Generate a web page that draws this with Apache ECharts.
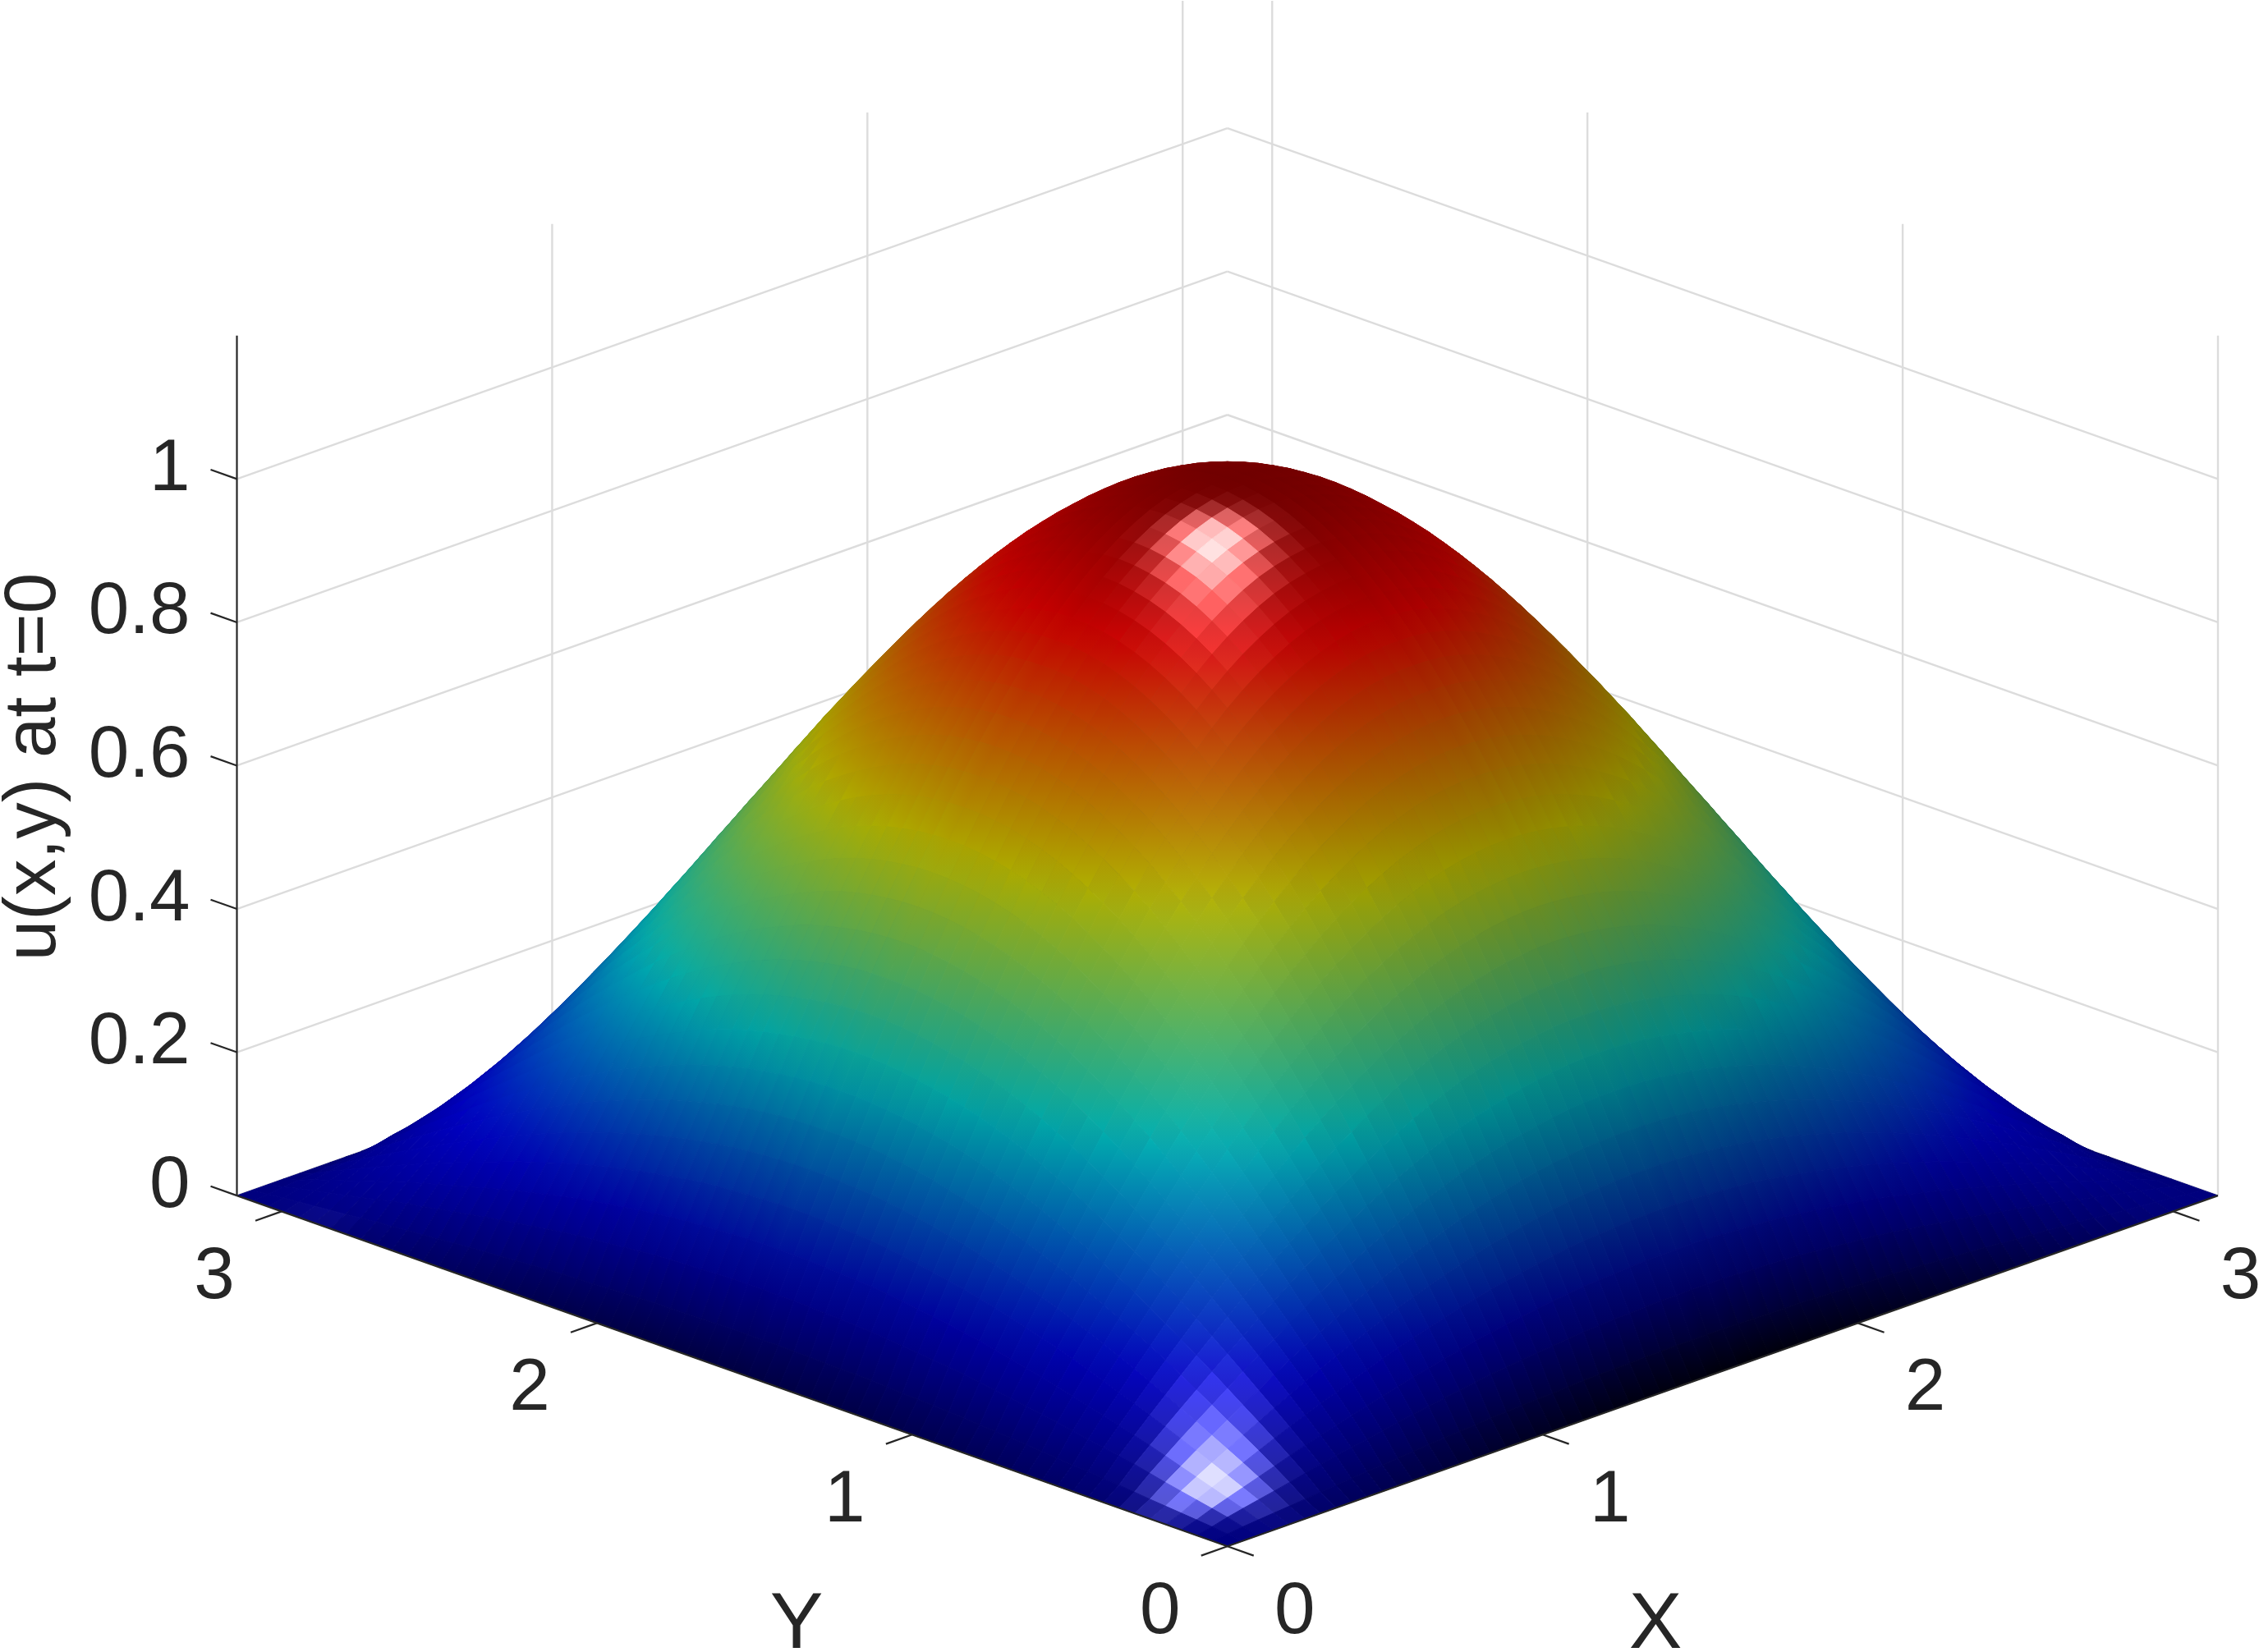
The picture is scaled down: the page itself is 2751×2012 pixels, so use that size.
<!DOCTYPE html>
<html>
<head>
<meta charset="utf-8">
<title>u(x,y) at t=0</title>
<script src="https://cdn.jsdelivr.net/npm/echarts@6/dist/echarts.min.js"></script>
<style>
  html, body { margin: 0; padding: 0; background: #fff; }
  #main { width: 2751px; height: 2012px; }
</style>
</head>
<body>
<div id="main"></div>
<script>
// axis ticks
const xyTicks = [0, 1, 2, 3];
const zTicks = [0, 0.2, 0.4, 0.6, 0.8, 1];
const axisMax = 3.142;
const zMax = 1.2;

// mesh positions along X and along Y
const xyGrid = [0,.098,.196,.295,.393,.491,.589,.687,.785,.884,.982,1.08,1.178,1.276,1.374,1.473,1.571,1.669,1.767,1.865,1.963,2.062,2.16,2.258,2.356,2.454,2.553,2.651,2.749,2.847,2.945,3.043,3.142];

// surface heights, one row per Y
const uTable = [
[0,0,0,0,0,0,0,0,0,0,0,0,0,0,0,0,0,0,0,0,0,0,0,0,0,0,0,0,0,0,0,0,0],
[0,.010,.019,.028,.038,.046,.054,.062,.069,.076,.082,.086,.091,.094,.096,.098,.098,.098,.096,.094,.091,.086,.082,.076,.069,.062,.054,.046,.038,.028,.019,.010,0],
[0,.019,.038,.057,.075,.092,.108,.124,.138,.151,.162,.172,.180,.187,.191,.194,.195,.194,.191,.187,.180,.172,.162,.151,.138,.124,.108,.092,.075,.057,.038,.019,0],
[0,.028,.057,.084,.111,.137,.161,.184,.205,.224,.241,.256,.268,.278,.285,.289,.290,.289,.285,.278,.268,.256,.241,.224,.205,.184,.161,.137,.111,.084,.057,.028,0],
[0,.038,.075,.111,.146,.180,.213,.243,.271,.296,.318,.338,.354,.366,.375,.381,.383,.381,.375,.366,.354,.338,.318,.296,.271,.243,.213,.180,.146,.111,.075,.038,0],
[0,.046,.092,.137,.180,.222,.262,.299,.333,.364,.392,.416,.436,.451,.462,.469,.471,.469,.462,.451,.436,.416,.392,.364,.333,.299,.262,.222,.180,.137,.092,.046,0],
[0,.054,.108,.161,.213,.262,.309,.352,.393,.429,.462,.490,.513,.532,.545,.553,.556,.553,.545,.532,.513,.490,.462,.429,.393,.352,.309,.262,.213,.161,.108,.054,0],
[0,.062,.124,.184,.243,.299,.352,.402,.449,.490,.527,.559,.586,.607,.622,.631,.634,.631,.622,.607,.586,.559,.527,.490,.449,.402,.352,.299,.243,.184,.124,.062,0],
[0,.069,.138,.205,.271,.333,.393,.449,.500,.547,.588,.624,.653,.677,.694,.704,.707,.704,.694,.677,.653,.624,.588,.547,.500,.449,.393,.333,.271,.205,.138,.069,0],
[0,.076,.151,.224,.296,.364,.429,.490,.547,.598,.643,.682,.714,.740,.758,.769,.773,.769,.758,.740,.714,.682,.643,.598,.547,.490,.429,.364,.296,.224,.151,.076,0],
[0,.082,.162,.241,.318,.392,.462,.527,.588,.643,.691,.733,.768,.796,.816,.828,.831,.828,.816,.796,.768,.733,.691,.643,.588,.527,.462,.392,.318,.241,.162,.082,0],
[0,.086,.172,.256,.338,.416,.490,.559,.624,.682,.733,.778,.815,.844,.865,.878,.882,.878,.865,.844,.815,.778,.733,.682,.624,.559,.490,.416,.338,.256,.172,.086,0],
[0,.091,.180,.268,.354,.436,.513,.586,.653,.714,.768,.815,.854,.884,.906,.919,.924,.919,.906,.884,.854,.815,.768,.714,.653,.586,.513,.436,.354,.268,.180,.091,0],
[0,.094,.187,.278,.366,.451,.532,.607,.677,.740,.796,.844,.884,.916,.939,.952,.957,.952,.939,.916,.884,.844,.796,.740,.677,.607,.532,.451,.366,.278,.187,.094,0],
[0,.096,.191,.285,.375,.462,.545,.622,.694,.758,.816,.865,.906,.939,.962,.976,.981,.976,.962,.939,.906,.865,.816,.758,.694,.622,.545,.462,.375,.285,.191,.096,0],
[0,.098,.194,.289,.381,.469,.553,.631,.704,.769,.828,.878,.919,.952,.976,.990,.995,.990,.976,.952,.919,.878,.828,.769,.704,.631,.553,.469,.381,.289,.194,.098,0],
[0,.098,.195,.290,.383,.471,.556,.634,.707,.773,.831,.882,.924,.957,.981,.995,1,.995,.981,.957,.924,.882,.831,.773,.707,.634,.556,.471,.383,.290,.195,.098,0],
[0,.098,.194,.289,.381,.469,.553,.631,.704,.769,.828,.878,.919,.952,.976,.990,.995,.990,.976,.952,.919,.878,.828,.769,.704,.631,.553,.469,.381,.289,.194,.098,0],
[0,.096,.191,.285,.375,.462,.545,.622,.694,.758,.816,.865,.906,.939,.962,.976,.981,.976,.962,.939,.906,.865,.816,.758,.694,.622,.545,.462,.375,.285,.191,.096,0],
[0,.094,.187,.278,.366,.451,.532,.607,.677,.740,.796,.844,.884,.916,.939,.952,.957,.952,.939,.916,.884,.844,.796,.740,.677,.607,.532,.451,.366,.278,.187,.094,0],
[0,.091,.180,.268,.354,.436,.513,.586,.653,.714,.768,.815,.854,.884,.906,.919,.924,.919,.906,.884,.854,.815,.768,.714,.653,.586,.513,.436,.354,.268,.180,.091,0],
[0,.086,.172,.256,.338,.416,.490,.559,.624,.682,.733,.778,.815,.844,.865,.878,.882,.878,.865,.844,.815,.778,.733,.682,.624,.559,.490,.416,.338,.256,.172,.086,0],
[0,.082,.162,.241,.318,.392,.462,.527,.588,.643,.691,.733,.768,.796,.816,.828,.831,.828,.816,.796,.768,.733,.691,.643,.588,.527,.462,.392,.318,.241,.162,.082,0],
[0,.076,.151,.224,.296,.364,.429,.490,.547,.598,.643,.682,.714,.740,.758,.769,.773,.769,.758,.740,.714,.682,.643,.598,.547,.490,.429,.364,.296,.224,.151,.076,0],
[0,.069,.138,.205,.271,.333,.393,.449,.500,.547,.588,.624,.653,.677,.694,.704,.707,.704,.694,.677,.653,.624,.588,.547,.500,.449,.393,.333,.271,.205,.138,.069,0],
[0,.062,.124,.184,.243,.299,.352,.402,.449,.490,.527,.559,.586,.607,.622,.631,.634,.631,.622,.607,.586,.559,.527,.490,.449,.402,.352,.299,.243,.184,.124,.062,0],
[0,.054,.108,.161,.213,.262,.309,.352,.393,.429,.462,.490,.513,.532,.545,.553,.556,.553,.545,.532,.513,.490,.462,.429,.393,.352,.309,.262,.213,.161,.108,.054,0],
[0,.046,.092,.137,.180,.222,.262,.299,.333,.364,.392,.416,.436,.451,.462,.469,.471,.469,.462,.451,.436,.416,.392,.364,.333,.299,.262,.222,.180,.137,.092,.046,0],
[0,.038,.075,.111,.146,.180,.213,.243,.271,.296,.318,.338,.354,.366,.375,.381,.383,.381,.375,.366,.354,.338,.318,.296,.271,.243,.213,.180,.146,.111,.075,.038,0],
[0,.028,.057,.084,.111,.137,.161,.184,.205,.224,.241,.256,.268,.278,.285,.289,.290,.289,.285,.278,.268,.256,.241,.224,.205,.184,.161,.137,.111,.084,.057,.028,0],
[0,.019,.038,.057,.075,.092,.108,.124,.138,.151,.162,.172,.180,.187,.191,.194,.195,.194,.191,.187,.180,.172,.162,.151,.138,.124,.108,.092,.075,.057,.038,.019,0],
[0,.010,.019,.028,.038,.046,.054,.062,.069,.076,.082,.086,.091,.094,.096,.098,.098,.098,.096,.094,.091,.086,.082,.076,.069,.062,.054,.046,.038,.028,.019,.010,0],
[0,0,0,0,0,0,0,0,0,0,0,0,0,0,0,0,0,0,0,0,0,0,0,0,0,0,0,0,0,0,0,0,0]
];

// jet colormap
const jetPos = [0, 0.127, 0.365, 0.62, 0.873, 1];
const jetRgb = [[0,0,143],[0,0,255],[0,255,255],[255,255,0],[255,0,0],[128,0,0]];

const INK = '#262626';
const GRID = '#dcdcdc';
const FONT = 'Liberation Sans, Arial, sans-serif';
const n = xyGrid.length;
const SUB = 2;  // each mesh cell is drawn as SUB x SUB facets

// view: x-y runs across the page, height is z plus the rise of the floor going back
const DEPTH = 0.1558;
function project(x, y, z) {
  return [x - y, (x + y) * DEPTH + z];
}

// slopes at the mesh nodes, for the lighting
const slopeX = [], slopeY = [];
for (let j = 0; j < n; j++) {
  slopeX.push([]); slopeY.push([]);
  for (let i = 0; i < n; i++) {
    const i0 = Math.max(i - 1, 0), i1 = Math.min(i + 1, n - 1);
    const j0 = Math.max(j - 1, 0), j1 = Math.min(j + 1, n - 1);
    slopeX[j].push((uTable[j][i1] - uTable[j][i0]) / (xyGrid[i1] - xyGrid[i0]));
    slopeY[j].push((uTable[j1][i] - uTable[j0][i]) / (xyGrid[j1] - xyGrid[j0]));
  }
}

function mix(a, b, t) { return a + (b - a) * t; }

// same curve idea as a smooth line series, so the outline does not show the mesh
function spline(p0, p1, p2, p3, t) {
  return p1 + 0.5 * t * (p2 - p0 + t * (2 * p0 - 5 * p1 + 4 * p2 - p3 + t * (3 * (p1 - p2) + p3 - p0)));
}
function node(i, j) {
  const ii = Math.max(0, Math.min(n - 1, i)), jj = Math.max(0, Math.min(n - 1, j));
  return uTable[jj][ii];
}
function heightAt(i, j, s, t) {
  const rows = [-1, 0, 1, 2].map(function (d) {
    return spline(node(i - 1, j + d), node(i, j + d), node(i + 1, j + d), node(i + 2, j + d), s);
  });
  return Math.max(0, spline(rows[0], rows[1], rows[2], rows[3], t));
}

function jet(z) {
  let k = 0;
  while (k < jetPos.length - 2 && z > jetPos[k + 1]) k++;
  const t = Math.min(1, Math.max(0, (z - jetPos[k]) / (jetPos[k + 1] - jetPos[k])));
  return jetRgb[k].map((c, m) => c + (jetRgb[k + 1][m] - c) * t);
}

// diffuse level and specular level of one facet
function lighting(gx, gy) {
  const g2 = gx * gx + gy * gy;
  const diff = 0.205 + Math.max(0, (0.675 + 2 * 0.12 * gx)) / Math.sqrt(1 + 4 * g2);
  const d = (gx + gy) / Math.SQRT2 - 0.24;
  const p = (gx - gy) / Math.SQRT2 - 0.032;
  const sd = d > 0 ? 0.16 : 0.08;
  let spec = 0.9 * Math.exp(-(d * d) / (sd * sd) - (p * p) / (0.106 * 0.106));
  if (d > 0) spec += 0.03 * (1 - Math.exp(-d / 0.1)) * Math.exp(-(p * p) / (0.18 * 0.18));
  return [diff, spec];
}

function shade(z, lit, gx, gy) {
  // the front edges fall off towards black at the foot of the slope, the X=0 edge less so
  const front = Math.max(0, 0.55 * gx + gy);
  const foot = 1 - 0.85 * Math.min(1, front * front) * Math.exp(-z / 0.07);
  const c = jet(z).map(v => Math.min(255, Math.round(v * lit[0] * foot + 255 * lit[1])));
  return 'rgb(' + c.join(',') + ')';
}

function renderFacet(params, api, i, j, a, b) {
  const s0 = a / SUB, s1 = (a + 1) / SUB, t0 = b / SUB, t1 = (b + 1) / SUB;
  const corners = [[s0, t0], [s1, t0], [s1, t1], [s0, t1]].map(function (c) {
    const x = mix(xyGrid[i], xyGrid[i + 1], c[0]);
    const y = mix(xyGrid[j], xyGrid[j + 1], c[1]);
    const z = heightAt(i, j, c[0], c[1]);
    return { z: z, pt: api.coord(project(x, y, z)) };
  });
  const sc = (s0 + s1) / 2, tc = (t0 + t1) / 2;
  const gx = mix(mix(slopeX[j][i], slopeX[j][i + 1], sc), mix(slopeX[j + 1][i], slopeX[j + 1][i + 1], sc), tc);
  const gy = mix(mix(slopeY[j][i], slopeY[j][i + 1], sc), mix(slopeY[j + 1][i], slopeY[j + 1][i + 1], sc), tc);
  const lit = lighting(gx, gy);
  let lo = corners[0], hi = corners[0];
  corners.forEach(function (c) { if (c.z < lo.z) lo = c; if (c.z > hi.z) hi = c; });
  let fill = shade(lo.z, lit, gx, gy);
  if (hi.z - lo.z > 0.001) {
    fill = {
      type: 'linear', global: true,
      x: lo.pt[0], y: lo.pt[1], x2: hi.pt[0], y2: hi.pt[1],
      colorStops: [{ offset: 0, color: shade(lo.z, lit, gx, gy) }, { offset: 1, color: shade(hi.z, lit, gx, gy) }]
    };
  }
  return {
    type: 'polygon',
    shape: { points: corners.map(c => c.pt) },
    style: { fill: fill, stroke: fill, lineWidth: 1 },
    silent: true
  };
}

function renderCell(params, api) {
  const i = api.value(0), j = api.value(1);
  const children = [];
  for (let a = SUB - 1; a >= 0; a--) {
    for (let b = SUB - 1; b >= 0; b--) {
      children.push(renderFacet(params, api, i, j, a, b));
    }
  }
  return { type: 'group', children: children };
}

function renderSegment(color, width) {
  return function (params, api) {
    const p0 = api.coord(project(api.value(0), api.value(1), api.value(2)));
    const p1 = api.coord(project(api.value(3), api.value(4), api.value(5)));
    return {
      type: 'line',
      shape: { x1: p0[0], y1: p0[1], x2: p1[0], y2: p1[1] },
      style: { stroke: color, lineWidth: width, lineCap: 'butt', fill: null },
      silent: true
    };
  };
}

// back to front, so the peak hides the far side
const cells = [];
for (let i = n - 2; i >= 0; i--) {
  for (let j = n - 2; j >= 0; j--) cells.push([i, j]);
}

// wall grid
const gridSegs = [];
zTicks.forEach(function (z) {
  gridSegs.push([0, axisMax, z, axisMax, axisMax, z]);
  gridSegs.push([axisMax, 0, z, axisMax, axisMax, z]);
});
xyTicks.forEach(function (t) {
  if (t > 0) gridSegs.push([t, axisMax, 0, t, axisMax, zMax]);
  gridSegs.push([axisMax, t, 0, axisMax, t, zMax]);
});

// axis lines and ticks
const TICK = 0.0833;
const axisSegs = [
  [0, 0, 0, axisMax, 0, 0],
  [0, 0, 0, 0, axisMax, 0],
  [0, axisMax, 0, 0, axisMax, zMax]
];
xyTicks.forEach(function (t) {
  axisSegs.push([t, 0, 0, t, -TICK, 0]);
  axisSegs.push([0, t, 0, -TICK, t, 0]);
});
zTicks.forEach(function (z) {
  axisSegs.push([0, axisMax, z, 0, axisMax + TICK, z]);
});

// texts: position in data, then nudged off the tick in pixels
const labels = [];
xyTicks.forEach(function (t) {
  labels.push({ text: String(t), at: [t, 0, 0], dx: 82, dy: 81, align: 'center' });
  labels.push({ text: String(t), at: [0, t, 0], dx: -82, dy: 81, align: 'center' });
});
zTicks.forEach(function (z) {
  labels.push({ text: String(z), at: [0, axisMax, z], dx: -57, dy: -11, align: 'right' });
});
labels.push({ text: 'X', align: 'center', size: 97, abs: [2016, 1980] });
labels.push({ text: 'Y', align: 'center', size: 97, abs: [970, 1980] });
labels.push({ text: 'u(x,y) at t=0', align: 'center', size: 89, abs: [42, 934], rotate: Math.PI / 2 });

function renderLabel(params, api) {
  const lb = labels[api.value(0)];
  const pt = lb.abs || api.coord(project(lb.at[0], lb.at[1], lb.at[2]));
  return {
    type: 'text',
    x: pt[0] + (lb.dx || 0),
    y: pt[1] + (lb.dy || 0),
    rotation: lb.rotate || 0,
    style: {
      text: lb.text,
      font: (lb.size || 89) + 'px ' + FONT,
      fill: INK,
      align: lb.align,
      verticalAlign: 'middle'
    },
    silent: true
  };
}

const chart = echarts.init(document.getElementById('main'), null, { renderer: 'canvas' });
const customBase = { type: 'custom', coordinateSystem: 'cartesian2d', clip: false, silent: true, progressive: 0, animation: false };

chart.setOption({
  animation: false,
  backgroundColor: '#fff',
  tooltip: { show: false },
  grid: { left: 288.5, top: 0, width: 2412.5, height: 1883.3 },
  xAxis: { type: 'value', min: -axisMax, max: axisMax, show: false },
  yAxis: { type: 'value', min: 0, max: 2.158, show: false },
  series: [
    Object.assign({}, customBase, { z: 1, data: gridSegs, renderItem: renderSegment(GRID, 2.4) }),
    Object.assign({}, customBase, { z: 2, data: cells, renderItem: renderCell }),
    Object.assign({}, customBase, { z: 3, data: axisSegs, renderItem: renderSegment(INK, 2.2) }),
    Object.assign({}, customBase, { z: 4, data: labels.map((_, k) => [k]), renderItem: renderLabel })
  ]
});
</script>
</body>
</html>
